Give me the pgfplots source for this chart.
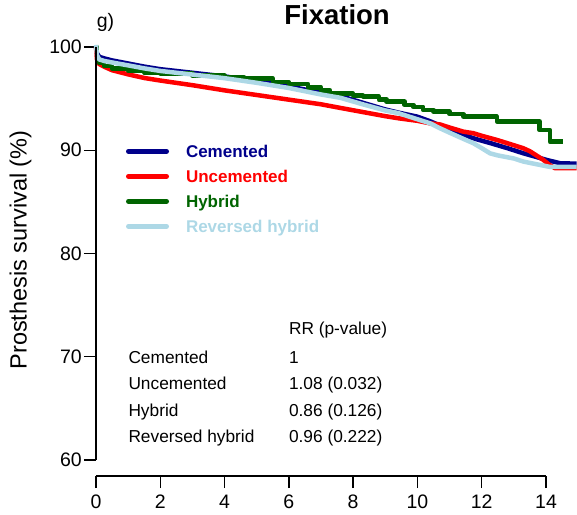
\documentclass[border=0pt]{standalone}
\usepackage{pgfplots}
\pgfplotsset{compat=1.18}
\usepackage{fontspec}
\setmainfont{Liberation Sans}
\definecolor{cem}{RGB}{0,0,139}
\definecolor{unc}{RGB}{255,0,0}
\definecolor{hyb}{RGB}{0,100,0}
\definecolor{rev}{RGB}{173,216,230}
\begin{document}
\begin{tikzpicture}
\begin{axis}[
  x=32.143pt, y=10.325pt,
  xmin=0, xmax=14.964, ymin=58.45, ymax=100.6,
  clip=false,
  axis x line*=bottom, axis y line*=left,
  axis line style={draw=none},
  tick align=outside,
  major tick length=12pt,
  tick style={line width=1.3pt, black},
  xtick={0,2,...,14}, ytick={60,70,...,100},
  /pgf/number format/assume math mode=true,
  ticklabel style={font=\fontsize{19.5}{20}\selectfont, inner sep=0pt},
  yticklabel style={xshift=-2pt},
  xticklabel style={yshift=-7pt},
  legend style={at={(axis description cs:0.0624,0.7606)}, anchor=north west,
    draw=none, fill=none, inner sep=0pt, outer sep=0pt,
    font=\bfseries\fontsize{17}{17}\selectfont,
    row sep=12.5pt, column sep=17pt,
    nodes={inner sep=0pt, outer sep=0pt, text height=12.5pt, text depth=0pt}},
  legend cell align=left,
  legend image code/.code={\draw[#1, line width=5pt, line cap=round] (2.5pt,0pt) -- (40.5pt,0pt);},
  line join=round,
]
\addplot[cem, line width=4.5pt] coordinates {
(0,100) (0.03,99.4) (0.1,99.05) (0.25,98.9) (0.5,98.7) (1,98.4) (1.5,98.1) (2,97.85) (3,97.5) (4,97.15) (5,96.7) (6,96.2) (7,95.55) (7.6,95.25) (8.3,94.6) (9,93.95) (9.4,93.65) (10,93.25) (10.4,92.8) (10.7,92.4) (11,92.0) (11.43,91.5) (11.8,91.1) (12.26,90.7) (12.8,90.2) (13.3,89.7) (13.7,89.35) (14.02,89.06) (14.44,88.74) (14.95,88.7)};
\addlegendentry{\textcolor{cem}{Cemented}}
\addplot[unc, line width=4.5pt] coordinates {
(0,100) (0.03,98.8) (0.1,98.35) (0.25,98.1) (0.5,97.75) (1,97.35) (1.5,97.0) (2,96.75) (3,96.3) (4,95.8) (5,95.35) (6,94.9) (7,94.45) (7.6,94.1) (8.3,93.7) (9,93.3) (9.4,93.1) (10,92.85) (10.4,92.6) (10.7,92.5) (11,92.2) (11.43,91.8) (11.74,91.65) (12,91.4) (12.47,91.0) (12.78,90.7) (13.29,90.2) (13.5,89.9) (13.92,89.06) (14.1,88.6) (14.28,88.26) (14.95,88.26)};
\addlegendentry{\textcolor{unc}{Uncemented}}
\addplot[hyb, line width=4.5pt, const plot] coordinates {
(0,100) (0.03,98.9) (0.1,98.45) (0.25,98.15) (0.5,97.9) (1,97.7) (1.5,97.55) (2,97.45) (3,97.25) (4,97.1) (4.6,96.95) (5.5,96.6) (6,96.4) (6.6,96.1) (7.0,95.8) (7.28,95.5) (8.0,95.3) (8.31,95.2) (8.8,94.9) (9.04,94.7) (9.6,94.4) (9.87,94.2) (10.18,93.9) (10.5,93.75) (11.0,93.5) (11.43,93.25) (12.47,92.8) (13.8,91.96) (14.12,90.83) (14.54,90.83)};
\addlegendentry{\textcolor{hyb}{Hybrid}}
\addplot[rev, line width=4.5pt] coordinates {
(0,100.2) (0.03,99.2) (0.1,98.8) (0.25,98.65) (0.5,98.5) (1,98.22) (1.5,97.93) (2,97.68) (3,97.33) (4,96.98) (5,96.53) (6,96.03) (7,95.4) (7.6,95.08) (8.3,94.45) (9,93.85) (9.4,93.6) (10,93.0) (10.4,92.6) (10.7,92.13) (11,91.7) (11.43,91.1) (11.74,90.68) (12,90.2) (12.26,89.7) (12.5,89.5) (13,89.2) (13.3,88.9) (13.81,88.58) (14.1,88.4) (14.95,88.38)};
\addlegendentry{\textcolor{rev}{Reversed hybrid}}
\draw[line width=1.3pt] (axis cs:0,60) -- (axis cs:0,100);
\draw[line width=1.3pt] (axis cs:0,58.45) -- (axis cs:14,58.45);
\node[anchor=base, font=\bfseries\fontsize{27.5}{28}\selectfont, inner sep=0pt] at (axis cs:7.5,102.13) {Fixation};
\node[anchor=base west, font=\fontsize{19.5}{20}\selectfont, inner sep=0pt] at (axis cs:0.02,101.88) {g)};
\node[anchor=base, rotate=90, font=\fontsize{23.5}{24}\selectfont, inner sep=0pt] at (axis cs:-2.156,80.34) {Prosthesis survival (\%)};
\begin{scope}[every node/.style={anchor=base west, inner sep=0pt, font=\fontsize{17.3}{18}\selectfont}]
\node at (axis cs:6.0,72.2) {RR (p-value)};
\node at (axis cs:1.005,69.30) {Cemented};
\node at (axis cs:6.0,69.30) {1};
\node at (axis cs:1.005,66.78) {Uncemented};
\node at (axis cs:6.0,66.78) {1.08 (0.032)};
\node at (axis cs:1.005,64.26) {Hybrid};
\node at (axis cs:6.0,64.26) {0.86 (0.126)};
\node at (axis cs:1.005,61.74) {Reversed hybrid};
\node at (axis cs:6.0,61.74) {0.96 (0.222)};
\end{scope}
\end{axis}
\pgfresetboundingbox
\path (-96pt,-38pt) rectangle (481pt,476pt);
\end{tikzpicture}
\end{document}
